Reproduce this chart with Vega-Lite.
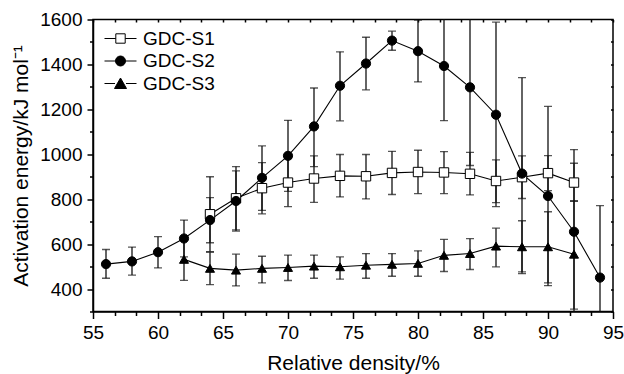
{
  "$schema": "https://vega.github.io/schema/vega-lite/v6.json",
  "autosize": {"type": "none"},
  "width": 520,
  "height": 292,
  "padding": {"left": 93, "top": 19.5, "right": 11, "bottom": 62.5},
  "background": "white",
  "config": {
    "view": {"stroke": "black", "strokeWidth": 1.5},
    "font": "Liberation Sans",
    "axis": {"grid": false, "domainColor": "black", "domainWidth": 1.5, "tickColor": "black", "tickWidth": 1.5, "labelColor": "black", "titleColor": "black", "labelFont": "Liberation Sans", "titleFont": "Liberation Sans", "labelFontSize": 19, "titleFontSize": 21, "titleFontWeight": "normal", "labelOverlap": false, "labelFlush": false}
  },
  "data": {"values": [
    {"series": "GDC-S1", "x": 64, "y": 733, "lo": 566, "hi": 900},
    {"series": "GDC-S1", "x": 66, "y": 804, "lo": 663, "hi": 945},
    {"series": "GDC-S1", "x": 68, "y": 849, "lo": 735, "hi": 963},
    {"series": "GDC-S1", "x": 70, "y": 874, "lo": 767, "hi": 981},
    {"series": "GDC-S1", "x": 72, "y": 892, "lo": 786, "hi": 993},
    {"series": "GDC-S1", "x": 74, "y": 904, "lo": 810, "hi": 999},
    {"series": "GDC-S1", "x": 76, "y": 902, "lo": 801, "hi": 999},
    {"series": "GDC-S1", "x": 78, "y": 917, "lo": 821, "hi": 1013},
    {"series": "GDC-S1", "x": 80, "y": 921, "lo": 825, "hi": 1018},
    {"series": "GDC-S1", "x": 82, "y": 919, "lo": 825, "hi": 1012},
    {"series": "GDC-S1", "x": 84, "y": 913, "lo": 819, "hi": 1008},
    {"series": "GDC-S1", "x": 86, "y": 881, "lo": 785, "hi": 975},
    {"series": "GDC-S1", "x": 88, "y": 898, "lo": 803, "hi": 993},
    {"series": "GDC-S1", "x": 90, "y": 916, "lo": 838, "hi": 994},
    {"series": "GDC-S1", "x": 92, "y": 874, "lo": 790, "hi": 960},
    {"series": "GDC-S2", "x": 56, "y": 511, "lo": 448, "hi": 576},
    {"series": "GDC-S2", "x": 58, "y": 523, "lo": 462, "hi": 587},
    {"series": "GDC-S2", "x": 60, "y": 564, "lo": 494, "hi": 633},
    {"series": "GDC-S2", "x": 62, "y": 625, "lo": 543, "hi": 707},
    {"series": "GDC-S2", "x": 64, "y": 707, "lo": 606, "hi": 807},
    {"series": "GDC-S2", "x": 66, "y": 792, "lo": 658, "hi": 926},
    {"series": "GDC-S2", "x": 68, "y": 895, "lo": 750, "hi": 1037},
    {"series": "GDC-S2", "x": 70, "y": 993, "lo": 835, "hi": 1151},
    {"series": "GDC-S2", "x": 72, "y": 1124, "lo": 945, "hi": 1295},
    {"series": "GDC-S2", "x": 74, "y": 1305, "lo": 1149, "hi": 1456},
    {"series": "GDC-S2", "x": 76, "y": 1404, "lo": 1287, "hi": 1521},
    {"series": "GDC-S2", "x": 78, "y": 1506, "lo": 1463, "hi": 1548},
    {"series": "GDC-S2", "x": 80, "y": 1459, "lo": 1322, "hi": 1597},
    {"series": "GDC-S2", "x": 82, "y": 1393, "lo": 1150, "hi": 1636},
    {"series": "GDC-S2", "x": 84, "y": 1298, "lo": 950, "hi": 1646},
    {"series": "GDC-S2", "x": 86, "y": 1176, "lo": 767, "hi": 1588},
    {"series": "GDC-S2", "x": 88, "y": 914, "lo": 476, "hi": 1341},
    {"series": "GDC-S2", "x": 90, "y": 814, "lo": 415, "hi": 1213},
    {"series": "GDC-S2", "x": 92, "y": 655, "lo": 289, "hi": 1021},
    {"series": "GDC-S2", "x": 94, "y": 451, "lo": 131, "hi": 771},
    {"series": "GDC-S3", "x": 62, "y": 532, "lo": 439, "hi": 625},
    {"series": "GDC-S3", "x": 64, "y": 492, "lo": 420, "hi": 564},
    {"series": "GDC-S3", "x": 66, "y": 484, "lo": 414, "hi": 555},
    {"series": "GDC-S3", "x": 68, "y": 492, "lo": 427, "hi": 546},
    {"series": "GDC-S3", "x": 70, "y": 496, "lo": 438, "hi": 551},
    {"series": "GDC-S3", "x": 72, "y": 502, "lo": 448, "hi": 551},
    {"series": "GDC-S3", "x": 74, "y": 499, "lo": 444, "hi": 543},
    {"series": "GDC-S3", "x": 76, "y": 506, "lo": 448, "hi": 558},
    {"series": "GDC-S3", "x": 78, "y": 510, "lo": 457, "hi": 558},
    {"series": "GDC-S3", "x": 80, "y": 514, "lo": 457, "hi": 570},
    {"series": "GDC-S3", "x": 82, "y": 550, "lo": 478, "hi": 621},
    {"series": "GDC-S3", "x": 84, "y": 558, "lo": 487, "hi": 624},
    {"series": "GDC-S3", "x": 86, "y": 591, "lo": 499, "hi": 671},
    {"series": "GDC-S3", "x": 88, "y": 588, "lo": 469, "hi": 704},
    {"series": "GDC-S3", "x": 90, "y": 588, "lo": 427, "hi": 744},
    {"series": "GDC-S3", "x": 92, "y": 555, "lo": 311, "hi": 793}
  ]},
  "layer": [
    {
      "mark": {"type": "rule", "color": "#111", "strokeWidth": 1.3, "clip": true},
      "encoding": {
        "x": {"field": "x", "type": "quantitative", "scale": {"domain": [55, 95], "nice": false, "zero": false},
          "axis": {"orient": "bottom", "title": "Relative density/%", "titlePadding": 10,
            "values": [55, 56.6667, 58.3333, 60, 61.6667, 63.3333, 65, 66.6667, 68.3333, 70, 71.6667, 73.3333, 75, 76.6667, 78.3333, 80, 81.6667, 83.3333, 85, 86.6667, 88.3333, 90, 91.6667, 93.3333, 95],
            "labelExpr": "datum.value % 5 === 0 ? '' + datum.value : ''",
            "tickSize": {"condition": {"test": "datum.value % 5 === 0", "value": 7}, "value": 4},
            "labelPadding": 5}},
        "y": {"field": "lo", "type": "quantitative", "scale": {"domain": [300, 1600], "nice": false, "zero": false},
          "axis": {"orient": "left", "title": "Activation energy/kJ mol⁻¹", "titlePadding": 8,
            "values": [300, 400, 500, 600, 700, 800, 900, 1000, 1100, 1200, 1300, 1400, 1500, 1600],
            "labelExpr": "datum.value % 200 === 0 ? '' + datum.value : ''",
            "tickSize": {"condition": {"test": "datum.value % 200 === 0", "value": 6}, "value": 3.5},
            "labelPadding": 5}},
        "y2": {"field": "hi"},
        "detail": {"field": "series"}
      }
    },
    {
      "mark": {"type": "tick", "orient": "horizontal", "color": "#111", "thickness": 1.3, "size": 8, "clip": true},
      "encoding": {
        "x": {"field": "x", "type": "quantitative", "axis": null},
        "y": {"field": "lo", "type": "quantitative", "axis": null}
      }
    },
    {
      "mark": {"type": "tick", "orient": "horizontal", "color": "#111", "thickness": 1.3, "size": 8, "clip": true},
      "encoding": {
        "x": {"field": "x", "type": "quantitative", "axis": null},
        "y": {"field": "hi", "type": "quantitative", "axis": null}
      }
    },
    {
      "mark": {"type": "line", "color": "black", "strokeWidth": 1.1},
      "encoding": {
        "x": {"field": "x", "type": "quantitative",
          "axis": {"orient": "top", "title": null, "labels": false, "domain": false, "tickSize": -2.5,
            "values": [55, 56.6667, 58.3333, 60, 61.6667, 63.3333, 65, 66.6667, 68.3333, 70, 71.6667, 73.3333, 75, 76.6667, 78.3333, 80, 81.6667, 83.3333, 85, 86.6667, 88.3333, 90, 91.6667, 93.3333, 95]}},
        "y": {"field": "y", "type": "quantitative",
          "axis": {"orient": "right", "title": null, "labels": false, "domain": false, "tickSize": -2.5,
            "values": [300, 400, 500, 600, 700, 800, 900, 1000, 1100, 1200, 1300, 1400, 1500, 1600]}},
        "detail": {"field": "series"}
      }
    },
    {
      "mark": {"type": "point", "filled": true, "stroke": "black", "strokeWidth": 1, "opacity": 1},
      "encoding": {
        "x": {"field": "x", "type": "quantitative", "axis": null},
        "y": {"field": "y", "type": "quantitative", "axis": null},
        "shape": {"field": "series", "type": "nominal", "scale": {"domain": ["GDC-S1", "GDC-S2", "GDC-S3"], "range": ["square", "circle", "triangle-up"]}, "legend": null},
        "fill": {"field": "series", "type": "nominal", "scale": {"domain": ["GDC-S1", "GDC-S2", "GDC-S3"], "range": ["white", "black", "black"]}, "legend": null},
        "size": {"field": "series", "type": "nominal", "scale": {"domain": ["GDC-S1", "GDC-S2", "GDC-S3"], "range": [88, 82, 140]}, "legend": null}
      }
    },
    {
      "mark": {"type": "point", "filled": false, "stroke": "black", "strokeWidth": 1, "opacity": 0},
      "encoding": {
        "x": {"field": "x", "type": "quantitative", "axis": null},
        "y": {"field": "y", "type": "quantitative", "axis": null},
        "shape": {"field": "series", "type": "nominal",
          "scale": {"domain": ["GDC-S1", "GDC-S2", "GDC-S3"], "range": [
            "M-1.6,0H-0.47M0.47,0H1.6M-0.47,-0.47H0.47V0.47H-0.47Z",
            "M-1.6,0H-0.5M0.5,0H1.6M0.5,0A0.5,0.5,0,1,1,-0.5,0A0.5,0.5,0,1,1,0.5,0Z",
            "M-1.6,0H-0.55M0.55,0H1.6M0,-0.55L0.6,0.5H-0.6Z"]},
          "legend": {"title": null, "orient": "none", "legendX": 17, "legendY": 8.5, "symbolSize": 400, "symbolOpacity": 1, "symbolStrokeWidth": 1, "labelOffset": 12, "labelFontSize": 19, "labelFont": "Liberation Sans", "labelColor": "black", "rowPadding": 1.5, "padding": 0}},
        "fill": {"field": "series", "type": "nominal",
          "scale": {"domain": ["GDC-S1", "GDC-S2", "GDC-S3"], "range": ["white", "black", "black"]},
          "legend": {"title": null, "orient": "none", "legendX": 17, "legendY": 8.5, "symbolSize": 400, "symbolOpacity": 1, "symbolStrokeWidth": 1, "labelOffset": 12, "labelFontSize": 19, "labelFont": "Liberation Sans", "labelColor": "black", "rowPadding": 1.5, "padding": 0}}
      }
    }
  ],
  "resolve": {
    "scale": {"shape": "independent", "fill": "independent"},
    "legend": {"shape": "independent", "fill": "independent"},
    "axis": {"x": "independent", "y": "independent"}
  }
}
